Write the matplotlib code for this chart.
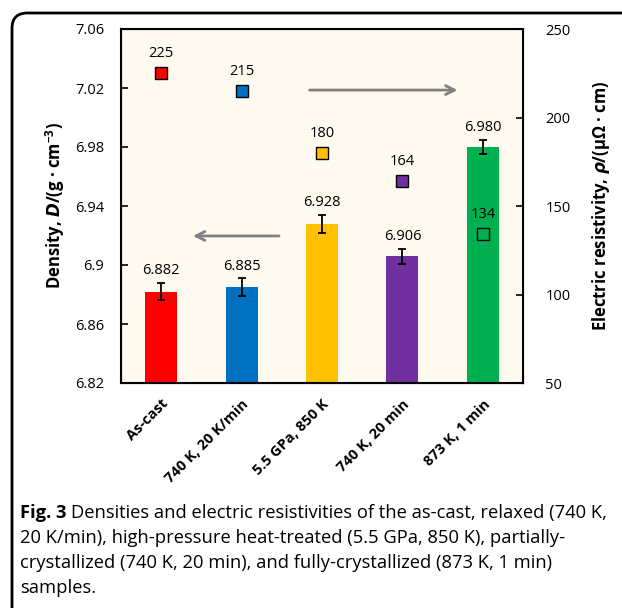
import matplotlib.pyplot as plt
from matplotlib.patches import FancyBboxPatch

plt.rcParams['font.family'] = ['Open Sans', 'DejaVu Sans']
plt.rcParams['mathtext.fontset'] = 'custom'
plt.rcParams['mathtext.it'] = 'Open Sans:italic'
plt.rcParams['mathtext.bf'] = 'Open Sans:bold'

samples = ['As-cast', '740 K, 20 K/min', '5.5 GPa, 850 K', '740 K, 20 min', '873 K, 1 min']
density = [6.882, 6.885, 6.928, 6.906, 6.980]
density_err = [0.006, 0.006, 0.006, 0.005, 0.005]
resistivity = [225, 215, 180, 164, 134]
bar_colors = ['#FF0000', '#0070C0', '#FFC000', '#7030A0', '#00B050']
marker_colors = ['#FF0000', '#0070C0', '#FFC000', '#7030A0', 'none']

fig = plt.figure(figsize=(6.22, 6.08), dpi=100)
ax = fig.add_axes([121 / 622, 1 - 383 / 608, 402 / 622, 354 / 608])
ax.set_facecolor('#FEFAF0')

x = range(len(samples))
ax.bar(x, density, width=0.4, color=bar_colors, zorder=2)
ax.errorbar(x, density, yerr=density_err, fmt='none', ecolor='black',
            elinewidth=1.3, capsize=3, capthick=1.3, zorder=3)
for i, d in enumerate(density):
    ax.text(i, d + density_err[i] + 0.003, f'{d:.3f}', ha='center', va='bottom',
            fontsize=10.5)

ax.set_xlim(-0.5, 4.5)
ax.set_ylim(6.82, 7.06)
ax.set_yticks([6.82, 6.86, 6.9, 6.94, 6.98, 7.02, 7.06])
ax.set_yticklabels(['6.82', '6.86', '6.9', '6.94', '6.98', '7.02', '7.06'])
ax.set_xticks(list(x))
ax.set_xticklabels(samples, rotation=45, ha='right', va='top',
                   rotation_mode='anchor', fontweight='bold', fontsize=10.5)
ax.tick_params(axis='x', direction='in', length=4, width=1.2, pad=10)
ax.tick_params(axis='y', direction='in', length=5, width=1.2, labelsize=10.5, pad=12)
ax.set_ylabel(r'Density, $\mathbfit{D}$/(g · cm$^{\mathbf{-3}}$)', fontweight='bold',
              fontsize=12, labelpad=6)
for s in ax.spines.values():
    s.set_linewidth(1.5)

ax2 = ax.twinx()
ax2.set_ylim(50, 250)
ax2.set_yticks([50, 100, 150, 200, 250])
ax2.tick_params(axis='y', direction='in', length=5, width=1.2, labelsize=10.5, pad=16)
for i, r in enumerate(resistivity):
    ax2.plot(i, r, 's', markersize=8.5, markerfacecolor=marker_colors[i],
             markeredgecolor='black', markeredgewidth=1, zorder=4)
    ax2.text(i, r + 7, str(r), ha='center', va='bottom', fontsize=10.5)
ax2.set_ylabel(r'Electric resistivity, $\mathbfit{\rho}$/(μΩ · cm)', fontweight='bold',
               fontsize=12, labelpad=14)

arrow_style = dict(arrowstyle='->', color='#808080', lw=2, mutation_scale=16)
ax.annotate('', xy=(3.72, 7.0186), xytext=(1.81, 7.0186), arrowprops=arrow_style)
ax.annotate('', xy=(0.36, 6.9197), xytext=(1.5, 6.9197), arrowprops=arrow_style)

frame = FancyBboxPatch((12 / 622, -0.1), 1.2, 1.1 - 13 / 608,
                       boxstyle='round,pad=0,rounding_size=0.025',
                       transform=fig.transFigure, fill=False, edgecolor='black',
                       linewidth=2, clip_on=False)
fig.patches.append(frame)

fs = 13.25
fig.canvas.draw()
r = fig.canvas.get_renderer()
t = fig.text(20 / 622, 1 - 513 / 608, 'Fig. 3', fontweight='bold', fontsize=fs, va='center')
bb = t.get_window_extent(renderer=r)
fig.text(bb.x1 / 622 + 0.008, 1 - 513 / 608,
         'Densities and electric resistivities of the as-cast, relaxed (740 K,',
         fontsize=fs, va='center')
lines = ['20 K/min), high-pressure heat-treated (5.5 GPa, 850 K), partially-',
         'crystallized (740 K, 20 min), and fully-crystallized (873 K, 1 min)',
         'samples.']
for k, line in enumerate(lines):
    fig.text(20 / 622, 1 - (538 + 25 * k) / 608, line, fontsize=fs, va='center')

fig.savefig('out.png', dpi=100)
